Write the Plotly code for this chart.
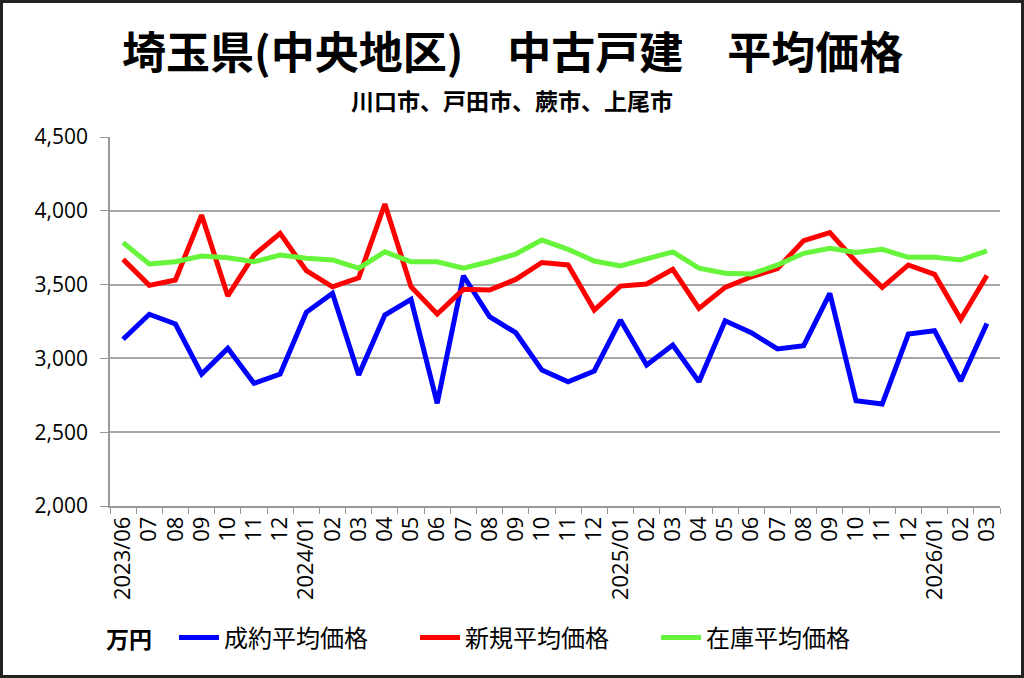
import plotly.graph_objects as go

months = ["2023/06", "2023/07", "2023/08", "2023/09", "2023/10", "2023/11", "2023/12",
          "2024/01", "2024/02", "2024/03", "2024/04", "2024/05", "2024/06", "2024/07",
          "2024/08", "2024/09", "2024/10", "2024/11", "2024/12", "2025/01", "2025/02",
          "2025/03", "2025/04", "2025/05", "2025/06", "2025/07", "2025/08", "2025/09",
          "2025/10", "2025/11", "2025/12", "2026/01", "2026/02", "2026/03"]
tick_labels = ["2023/06", "07", "08", "09", "10", "11", "12",
               "2024/01", "02", "03", "04", "05", "06", "07", "08", "09", "10", "11", "12",
               "2025/01", "02", "03", "04", "05", "06", "07", "08", "09", "10", "11", "12",
               "2026/01", "02", "03"]

seiyaku = [3130, 3299, 3233, 2894, 3068, 2831, 2894, 3312, 3441, 2888, 3294, 3400,
           2696, 3560, 3283, 3174, 2921, 2842, 2915, 3260, 2955, 3091, 2842, 3255,
           3174, 3064, 3086, 3441, 2713, 2691, 3165, 3188, 2847, 3237]
shinki = [3671, 3495, 3531, 3971, 3423, 3700, 3847, 3594, 3485, 3546, 4046, 3485,
          3301, 3468, 3463, 3535, 3650, 3633, 3328, 3490, 3504, 3604, 3339, 3481,
          3553, 3609, 3798, 3853, 3655, 3481, 3633, 3570, 3265, 3562]
zaiko = [3784, 3640, 3655, 3694, 3682, 3655, 3700, 3678, 3667, 3611, 3722, 3655,
         3655, 3611, 3655, 3707, 3802, 3739, 3660, 3626, 3674, 3722, 3611, 3577,
         3572, 3633, 3712, 3746, 3717, 3739, 3685, 3685, 3667, 3729]

series_names = ["成約平均価格", "新規平均価格", "在庫平均価格"]
series_colors = ["#0000FF", "#FF0000", "#66F53A"]
unit_label = "万円"

FONT = "Noto Sans CJK JP, Noto Sans, sans-serif"
NUMFONT = "Open Sans, Noto Sans, sans-serif"

fig = go.Figure()
for name, vals, col in zip(series_names, [seiyaku, shinki, zaiko], series_colors):
    fig.add_trace(go.Scatter(x=months, y=vals, mode="lines", name=name,
                             line=dict(color=col, width=5)))

L, R, T, B = 110, 24, 137, 172
W, H = 1024, 678
pw, ph = W - L - R, H - T - B

def px_x(p):
    return (p - L) / pw

def px_y(p):
    return (H - B - p) / ph

fig.update_layout(
    width=W, height=H,
    margin=dict(l=L, r=R, t=T, b=B),
    paper_bgcolor="white", plot_bgcolor="white",
    font=dict(family=FONT, color="black"),
    showlegend=True,
    legend=dict(orientation="h", x=px_x(174), xanchor="left", y=px_y(638), yanchor="middle",
                font=dict(size=24, family=FONT),
                entrywidth=186, itemwidth=40),
    annotations=[
        dict(text="<b>埼玉県(中央地区)　中古戸建　平均価格</b>", x=px_x(512), y=px_y(50),
             xref="paper", yref="paper", showarrow=False, xanchor="center", yanchor="middle",
             font=dict(size=44, family=FONT, color="black")),
        dict(text="<b>川口市、戸田市、蕨市、上尾市</b>", x=px_x(512), y=px_y(100),
             xref="paper", yref="paper", showarrow=False, xanchor="center", yanchor="middle",
             font=dict(size=23, family=FONT, color="black")),
        dict(text="<b>" + unit_label + "</b>", x=px_x(104), y=px_y(638),
             xref="paper", yref="paper", showarrow=False, xanchor="left", yanchor="middle",
             font=dict(size=23, family=FONT, color="black")),
    ],
    shapes=[dict(type="rect", xref="paper", yref="paper",
                 x0=px_x(1.5), x1=px_x(1022.5), y0=px_y(676.5), y1=px_y(1.5),
                 line=dict(color="#222222", width=3), fillcolor="rgba(0,0,0,0)")],
)

fig.update_xaxes(type="category", categoryorder="array", categoryarray=months,
                 tickmode="array", tickvals=months, ticktext=tick_labels,
                 tickson="boundaries", ticks="outside", ticklen=6, tickcolor="#999999",
                 tickangle=-90, tickfont=dict(size=22, family=NUMFONT),
                 showline=True, linecolor="#999999", linewidth=1.5,
                 showgrid=False, zeroline=False, range=[-0.5, 33.5])
fig.update_yaxes(range=[2000, 4500], dtick=500, tick0=2000, tickformat=",d",
                 ticks="outside", ticklen=8, tickcolor="#999999",
                 tickfont=dict(size=21, family=NUMFONT),
                 ticklabelstandoff=8,
                 showline=True, linecolor="#999999", linewidth=1.5,
                 showgrid=True, gridcolor="#A6A6A6", gridwidth=1.5, zeroline=False)

fig.write_html("out.html", config={"displayModeBar": False},
               post_script="document.body.style.margin='0';document.body.style.padding='0';")
